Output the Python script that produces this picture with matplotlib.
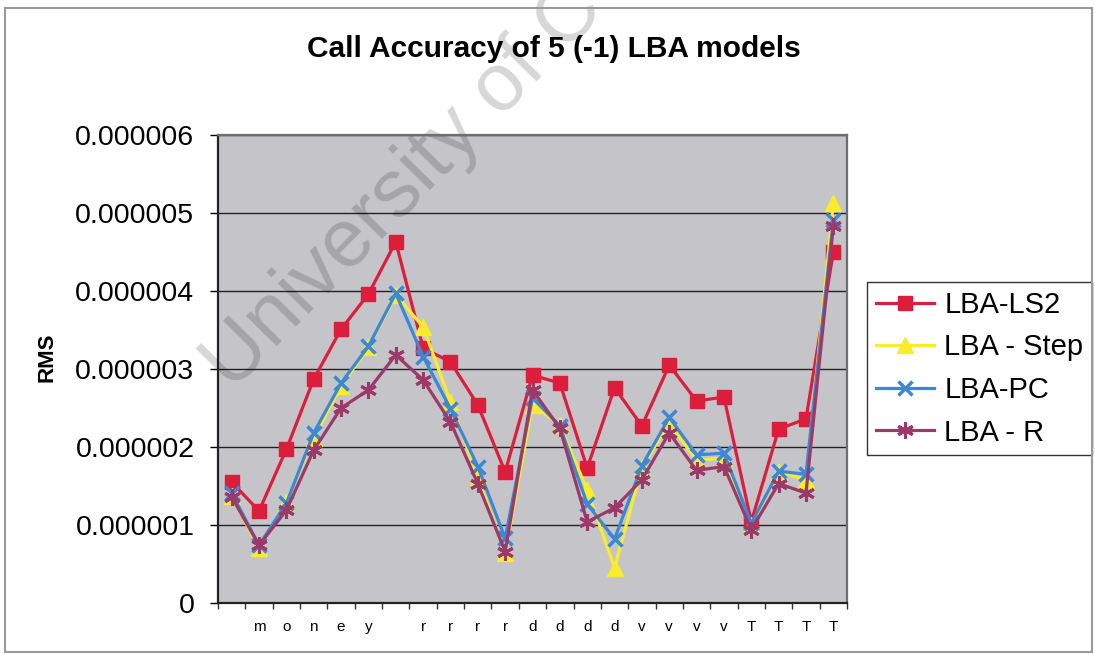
import numpy as np
import matplotlib
matplotlib.use("Agg")
import matplotlib.pyplot as plt
from matplotlib.patches import Rectangle
from matplotlib.ticker import FuncFormatter, FixedLocator

plt.rcParams["font.family"] = ["Liberation Sans", "DejaVu Sans"]

# category labels along the x axis
labels = ["", "m", "o", "n", "e", "y", "", "r", "r", "r", "r",
          "d", "d", "d", "d", "v", "v", "v", "v", "T", "T", "T", "T"]

# RMS values (in units of 1e-6)
ls2 = [1.55, 1.18, 1.97, 2.87, 3.51, 3.96, 4.63, 3.27, 3.09, 2.54, 1.68, 2.92,
       2.82, 1.73, 2.76, 2.27, 3.05, 2.59, 2.64, 1.04, 2.23, 2.36, 4.50]
step = [1.37, 0.70, 1.30, 2.12, 2.78, 3.28, 3.95, 3.54, 2.58, 1.61, 0.64, 2.54,
        2.28, 1.45, 0.45, 1.74, 2.30, 1.83, 1.86, 1.00, 1.68, 1.58, 5.13]
pc = [1.41, 0.74, 1.28, 2.18, 2.82, 3.29, 3.97, 3.16, 2.49, 1.75, 0.83, 2.63,
      2.27, 1.27, 0.82, 1.76, 2.38, 1.90, 1.92, 1.02, 1.69, 1.65, 4.91]
r = [1.36, 0.74, 1.19, 1.96, 2.50, 2.73, 3.18, 2.86, 2.32, 1.53, 0.66, 2.73,
     2.24, 1.04, 1.22, 1.58, 2.18, 1.70, 1.75, 0.94, 1.53, 1.41, 4.83]

W, H = 1095, 656
fig = plt.figure(figsize=(W / 100, H / 100), dpi=100)
fig.patch.set_facecolor("white")

# outer chart border
fig.patches.append(Rectangle((5 / W, 4 / H), 1087 / W, 644 / H, transform=fig.transFigure,
                             fill=False, edgecolor="#9a9a9a", linewidth=1.5))

ax = fig.add_axes([218 / W, 1 - 603 / H, 629 / W, 468 / H])
ax.set_facecolor("#C4C4C9")

x = np.arange(len(labels))
series = [
    ("LBA-LS2", ls2, "#DC1E3C", "s", 10, 1.0),
    ("LBA - Step", step, "#FAEC2A", "^", 11, 1.0),
    ("LBA-PC", pc, "#3A88D6", "x", 10, 2.5),
    ("LBA - R", r, "#9B3A68", (6, 2, 0), 12, 2.2),
]
for name, vals, col, mk, ms, mew in series:
    ax.plot(x, np.array(vals) * 1e-6, color=col, lw=2.3, marker=mk, ms=ms,
            mew=mew, mfc=col, mec=col, label=name, zorder=3)

ax.set_xlim(-0.5, len(labels) - 0.5)
ax.set_ylim(0, 6e-6)
ax.set_yticks(np.arange(0, 7) * 1e-6)
ax.yaxis.set_major_formatter(FuncFormatter(lambda v, p: "0" if v == 0 else f"{v:.6f}"))
ax.grid(axis="y", color="#222222", lw=1.0, zorder=1)
ax.set_axisbelow(True)

ax.set_xticks(x)
ax.set_xticklabels(labels, fontsize=11)
ax.xaxis.set_minor_locator(FixedLocator(np.arange(len(labels) + 1) - 0.5))
ax.tick_params(axis="x", which="major", length=0, pad=12)
ax.tick_params(axis="x", which="minor", length=4, width=1, color="#333333")
ax.tick_params(axis="y", labelsize=20.5, length=6, width=1, pad=11)

for s in ["left", "bottom"]:
    ax.spines[s].set_color("#222222")
    ax.spines[s].set_linewidth(1.6)
for s in ["top", "right"]:
    ax.spines[s].set_color("#6d6d72")
    ax.spines[s].set_linewidth(1.6)

# watermark (runs off the top edge, as in the scan)
ax.text(232 / W, 1 - 392 / H, "University of C", transform=fig.transFigure,
        fontsize=59, rotation=45.5, rotation_mode="anchor", ha="left", va="baseline",
        color="black", alpha=0.16, clip_on=False, zorder=2)

fig.text(554 / W, 1 - 57 / H, "Call Accuracy of 5 (-1) LBA models", ha="center",
         va="baseline", fontsize=21.5, fontweight="bold")
fig.text(47 / W, 1 - 357 / H, "RMS", rotation=90, ha="center", va="center",
         fontsize=16, fontweight="bold")

leg = ax.legend(loc="upper left", bbox_to_anchor=(867 / W, 1 - 282 / H),
                bbox_transform=fig.transFigure, borderaxespad=0, fontsize=21,
                frameon=True, fancybox=False, edgecolor="#333333", framealpha=1,
                handlelength=2.0, handletextpad=0.35, labelspacing=0.5,
                borderpad=0.3)
leg.get_frame().set_linewidth(1.0)

fig.savefig("out.png", dpi=100)
